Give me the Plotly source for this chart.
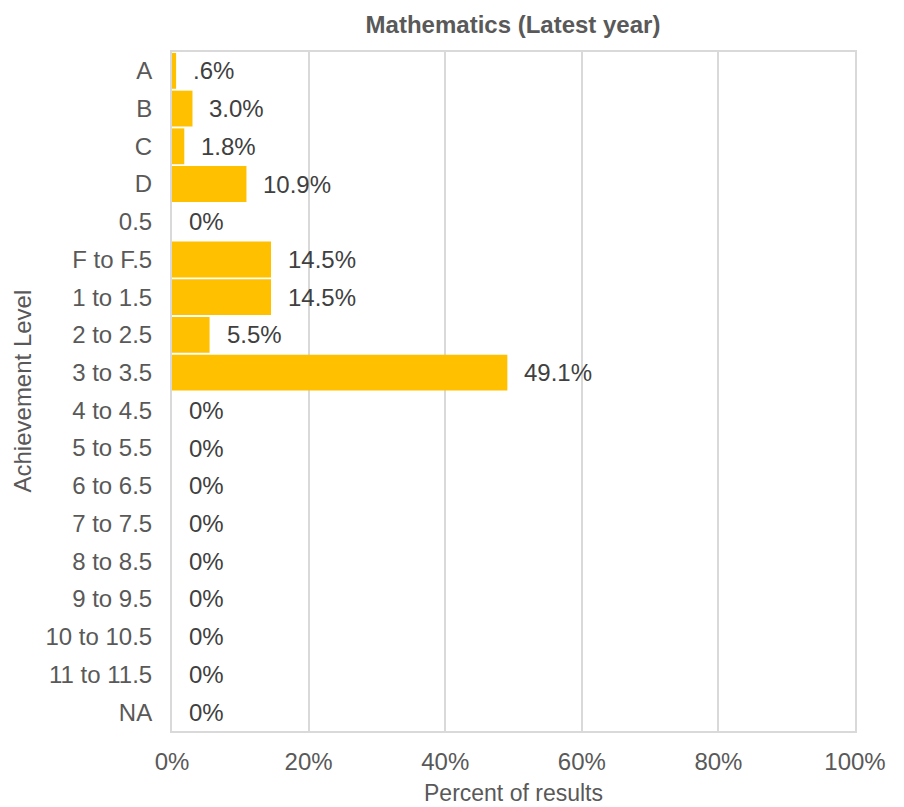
import plotly.graph_objects as go

categories = ["A", "B", "C", "D", "0.5", "F to F.5", "1 to 1.5", "2 to 2.5", "3 to 3.5",
              "4 to 4.5", "5 to 5.5", "6 to 6.5", "7 to 7.5", "8 to 8.5", "9 to 9.5",
              "10 to 10.5", "11 to 11.5", "NA"]
values = [0.006, 0.030, 0.018, 0.109, 0.0, 0.145, 0.145, 0.055, 0.491,
          0, 0, 0, 0, 0, 0, 0, 0, 0]
labels = [".6%", "3.0%", "1.8%", "10.9%", "0%", "14.5%", "14.5%", "5.5%", "49.1%",
          "0%", "0%", "0%", "0%", "0%", "0%", "0%", "0%", "0%"]
x_ticks = [0, 0.2, 0.4, 0.6, 0.8, 1.0]
x_tick_labels = ["0%", "20%", "40%", "60%", "80%", "100%"]
y_title = "Achievement Level"
x_title = "Percent of results"

FONT = "Liberation Sans, Arial, sans-serif"
FS = 24

fig = go.Figure()
fig.add_trace(go.Bar(
    y=list(range(len(categories))), x=values, orientation="h",
    marker=dict(color="#FFC000", line=dict(width=0)),
    hoverinfo="skip",
))

for i, (v, t) in enumerate(zip(values, labels)):
    fig.add_annotation(x=v, y=i, text=t, showarrow=False, xanchor="left",
                       xshift=15, font=dict(family=FONT, size=FS, color="#404040"))

# axis titles placed as annotations
fig.add_annotation(xref="paper", yref="paper", x=0, y=0.5, xshift=-150,
                   text=y_title, textangle=-90, showarrow=False,
                   xanchor="center", yanchor="middle",
                   font=dict(family=FONT, size=FS, color="#595959"))
fig.add_annotation(xref="paper", yref="paper", x=0.5, y=0, yshift=-62,
                   text=x_title, showarrow=False,
                   xanchor="center", yanchor="middle",
                   font=dict(family=FONT, size=FS - 1, color="#595959"))

# page has an 8px body margin, so the figure is 896x799 placed at (8, 8)
fig.update_layout(
    width=896, height=799,
    margin=dict(l=164, r=49, t=44, b=76),
    plot_bgcolor="white", paper_bgcolor="white",
    bargap=0.05,
    showlegend=False,
    title=dict(text="<b>Mathematics (Latest year)</b>", x=505 / 896, xanchor="center",
               y=1 - 17 / 799, yanchor="middle",
               font=dict(family=FONT, size=FS, color="#595959")),
    font=dict(family=FONT, color="#595959"),
)
fig.update_xaxes(
    range=[0, 1], tickvals=x_ticks, ticktext=x_tick_labels,
    showgrid=True, gridcolor="#D9D9D9", gridwidth=1.5,
    showline=True, linecolor="#D9D9D9", linewidth=2, mirror=True,
    zeroline=False, ticks="", ticklen=0, ticklabelstandoff=8,
    automargin=False,
    tickfont=dict(family=FONT, size=FS, color="#595959"),
)
fig.update_yaxes(
    range=[len(categories) - 0.5, -0.5],
    tickvals=list(range(len(categories))), ticktext=categories,
    showgrid=False, showline=True, linecolor="#D9D9D9", linewidth=2, mirror=True,
    zeroline=False, ticks="", ticklen=0, ticklabelstandoff=13,
    automargin=False,
    tickfont=dict(family=FONT, size=FS, color="#595959"),
)

fig.write_html("out.html")
